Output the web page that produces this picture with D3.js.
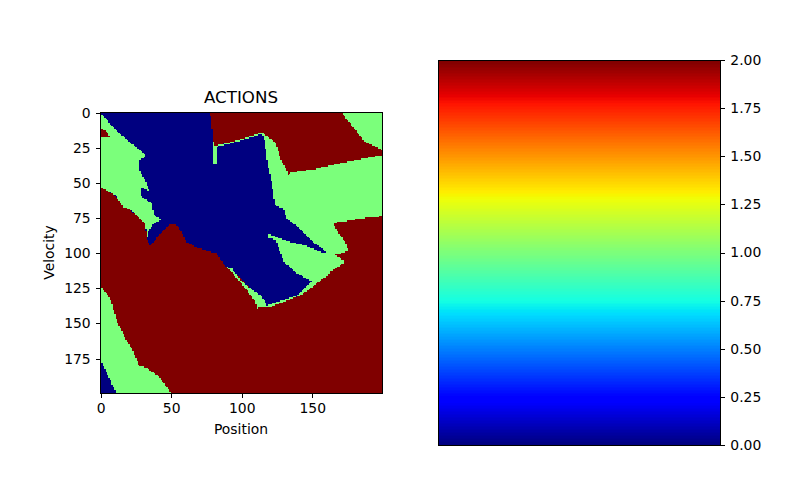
<!DOCTYPE html>
<html><head><meta charset="utf-8">
<script src="https://cdn.jsdelivr.net/npm/d3@7"></script>
<style>
html,body{margin:0;padding:0;background:#fff}
svg{display:block}
text{font-family:"DejaVu Sans",sans-serif;fill:#000}
</style></head><body>
<div id="chart"></div>
<script>
// Action values: 0 = blue, 1 = green, 2 = dark red
const gridSize = 200;
const xTicks = [0, 50, 100, 150];
const yTicks = [0, 25, 50, 75, 100, 125, 150, 175];
const barTicks = [0, 0.25, 0.5, 0.75, 1, 1.25, 1.5, 1.75, 2];

// Region outlines, in [position, velocity] cell units.
const blueMain = [[-1,-1],[115,-1],[115,15],[160,100],[151,120],[140.5,130.5],[126,135.5],[117,137.5],[111,129.5],[103,122],[96,114],[89.4,109.5],[87,107],[82.3,100],[72.8,97.7],[61,92.5],[57.5,85.6],[53.4,79.3],[49.2,79.3],[43.3,84.7],[38.5,90.7],[35,94.2],[33,90],[31,78],[-1,50]];
const greenLeft = [[-1,-1],[0,0],[6.6,7.8],[13.7,15],[22,22],[30.7,28.6],[31.4,31.5],[27.2,33.4],[27.9,41],[31.4,48],[34.3,55.6],[29,53.3],[29,59.9],[36.2,64.6],[37.4,71.7],[42.6,76.4],[37.4,78.8],[33.8,84.7],[33.1,89.5],[31.4,78.8],[23.2,70.5],[16,67],[10.1,58.7],[3,54.7],[-1,53]];
const greenBig = [[114.5,14.2],[201,14],[201,75],[175.8,98.2],[166.3,101.2],[172.7,105.3],[172.2,107.2],[162.8,113],[164,115.4],[158,117.8],[143.8,128.9],[132,133.9],[120.2,138.4],[111.9,138.4],[110.7,139.8],[109.5,134.4],[103.6,126.1],[96.5,117.8],[89.4,109.5],[93,110.7],[98.9,119],[106,124.9],[114.3,130.8],[117.8,137.2],[126.1,134.4],[140.3,129.6],[149.8,120.2],[139.1,114.3],[129.7,106],[124.5,90.6],[118.6,89],[118.6,87],[121,87],[124.5,88.6],[132,91.3],[146.2,95],[158,99.6],[160.4,100],[155.6,95.4],[149.7,91.8],[142.6,83.6],[132,75.3],[129.6,68.2],[123.7,65.8],[120.6,45.7],[118.3,36.2],[116.6,22]];
const greenSliver = [[80,21],[82.4,21],[82.4,36.2],[80,36.2]];
const greenEdge = [[80.4,23.8],[96.5,19.6],[114.5,14.2],[114.5,15.2],[96.5,20.6],[80.4,24.8]];
const greenLower = [[-1,123.7],[0,123.7],[3,127.3],[6.6,132],[9,140.3],[12.5,150.9],[17.2,160.4],[22,167.5],[27.4,180],[32.6,181.7],[40.9,187.6],[45.6,193.5],[50.4,200],[-1,200]];
const blueCorner = [[-1,177],[0,177],[3,182.9],[6.6,190],[10.9,200],[-1,200]];
const greenCorner = [[169.8,-1],[201,-1],[201,26.8],[200,26.8],[186.4,19.7],[177,7.9]];
const redTop = [[77.6,-1],[169.8,-1],[177,7.9],[186.4,19.7],[200,26.8],[201,26.8],[201,29.9],[200,29.9],[177,34.4],[153.3,39.8],[134.3,42.9],[133.2,44.5],[127.2,31.5],[123.7,20.9],[114.5,14.2],[96.5,19.7],[87,22],[80.4,23.9]];
const redLeftPatch = [[-1,10.9],[0,10.9],[3,12.6],[6.6,16.9],[6.6,18],[-1,16.8]];
const redRight = [[165.1,78.4],[185.2,75.3],[201,73.6],[201,130],[150,130],[162.8,114],[172.2,107.2],[172.7,105.3],[166.3,101.2],[175.8,98.2],[173.4,91.8],[168.7,85.9]];

const regions = [
  {v:0, poly:blueMain},
  {v:1, poly:greenLeft},{v:1, poly:greenBig},{v:1, poly:greenSliver},{v:1, poly:greenEdge},
  {v:1, poly:greenLower},{v:0, poly:blueCorner},{v:1, poly:greenCorner},
  {v:2, poly:redTop},{v:2, poly:redLeftPatch},{v:2, poly:redRight}
];

// Jet colormap breakpoints
const jetR = [[0,0],[0.35,0],[0.66,1],[0.89,1],[1,0.5]];
const jetG = [[0,0],[0.125,0],[0.375,1],[0.64,1],[0.91,0],[1,0]];
const jetB = [[0,0.5],[0.11,1],[0.34,1],[0.65,0],[1,0]];
const chan = tbl => d3.scaleLinear().domain(tbl.map(d=>d[0])).range(tbl.map(d=>d[1]));
const rS = chan(jetR), gS = chan(jetG), bS = chan(jetB);
const jet = t => d3.rgb(rS(t)*255, gS(t)*255, bS(t)*255).formatHex();

const W = 800, H = 500;
const svg = d3.select("#chart").append("svg").attr("width",W).attr("height",H).attr("viewBox",`0 0 ${W} ${H}`);

// Heat map
const L = 100, R = 382, T = 112, B = 393;
const x = d3.scaleLinear().domain([-0.5, gridSize-0.5]).range([L,R]);
const y = d3.scaleLinear().domain([-0.5, gridSize-0.5]).range([T,B]);
const color = d3.scaleLinear().domain([0,2]).range([0,1]);

const grid = d3.range(gridSize).map(r => d3.range(gridSize).map(c => {
  let val = 2;
  for (const reg of regions) if (d3.polygonContains(reg.poly,[c,r])) val = reg.v;
  return val;
}));

const cells = [];
grid.forEach((row,r)=>{
  let start = 0;
  for (let c=1;c<=gridSize;c++){
    if (c===gridSize || row[c]!==row[start]){
      cells.push({r,c0:start,c1:c-1,v:row[start]});
      start = c;
    }
  }
});
svg.append("g").attr("shape-rendering","crispEdges").selectAll("rect").data(cells).join("rect")
  .attr("x",d=>x(d.c0-0.5)).attr("y",d=>y(d.r-0.5))
  .attr("width",d=>x(d.c1+0.5)-x(d.c0-0.5)).attr("height",d=>y(d.r+0.5)-y(d.r-0.5))
  .attr("fill",d=>jet(color(d.v)));

function styleAxis(g){
  g.selectAll("line").attr("stroke","#000").attr("stroke-width",1).attr("shape-rendering","crispEdges");
  g.selectAll("text").style("font-size","13.9px").style("font-family",'"DejaVu Sans",sans-serif').attr("fill","#000");
}
const frame = (l,t,r,b)=>svg.append("rect").attr("x",l+0.5).attr("y",t+0.5).attr("width",r-l).attr("height",b-t).attr("fill","none").attr("stroke","#000").attr("stroke-width",1).attr("shape-rendering","crispEdges");
frame(L,T,R,B);

svg.append("g").attr("transform",`translate(0,${B+0.5})`)
  .call(d3.axisBottom(x).tickValues(xTicks).tickFormat(d3.format("d")).tickSize(4.9).tickPadding(4.9))
  .call(styleAxis).call(g=>g.select("path").remove());
svg.append("g").attr("transform",`translate(${L+0.5},0)`)
  .call(d3.axisLeft(y).tickValues(yTicks).tickFormat(d3.format("d")).tickSize(4.9).tickPadding(4.9))
  .call(styleAxis).call(g=>g.select("path").remove());

svg.append("text").attr("x",(L+R)/2).attr("y",T-9).attr("text-anchor","middle").style("font-size","16.67px").text("ACTIONS");
svg.append("text").attr("x",(L+R)/2).attr("y",434).attr("text-anchor","middle").style("font-size","13.9px").text("Position");
svg.append("text").attr("transform",`translate(54,${(T+B)/2}) rotate(-90)`).attr("text-anchor","middle").style("font-size","13.9px").text("Velocity");

// Colour bar
const cL = 438, cR = 720, cT = 60, cB = 445;
const cy = d3.scaleLinear().domain([0,2]).range([cB,cT]);
const levels = d3.range(256);
svg.append("g").attr("shape-rendering","crispEdges").selectAll("rect").data(levels).join("rect")
  .attr("x",cL).attr("width",cR-cL)
  .attr("y",d=>cy((d+1)/128)).attr("height",d=>cy(d/128)-cy((d+1)/128)+0.5)
  .attr("fill",d=>jet(d/255));
frame(cL,cT,cR,cB);
svg.append("g").attr("transform",`translate(${cR+0.5},0)`)
  .call(d3.axisRight(cy).tickValues(barTicks).tickFormat(d3.format(".2f")).tickSize(4.9).tickPadding(4.9))
  .call(styleAxis).call(g=>g.select("path").remove());
</script>
</body></html>
